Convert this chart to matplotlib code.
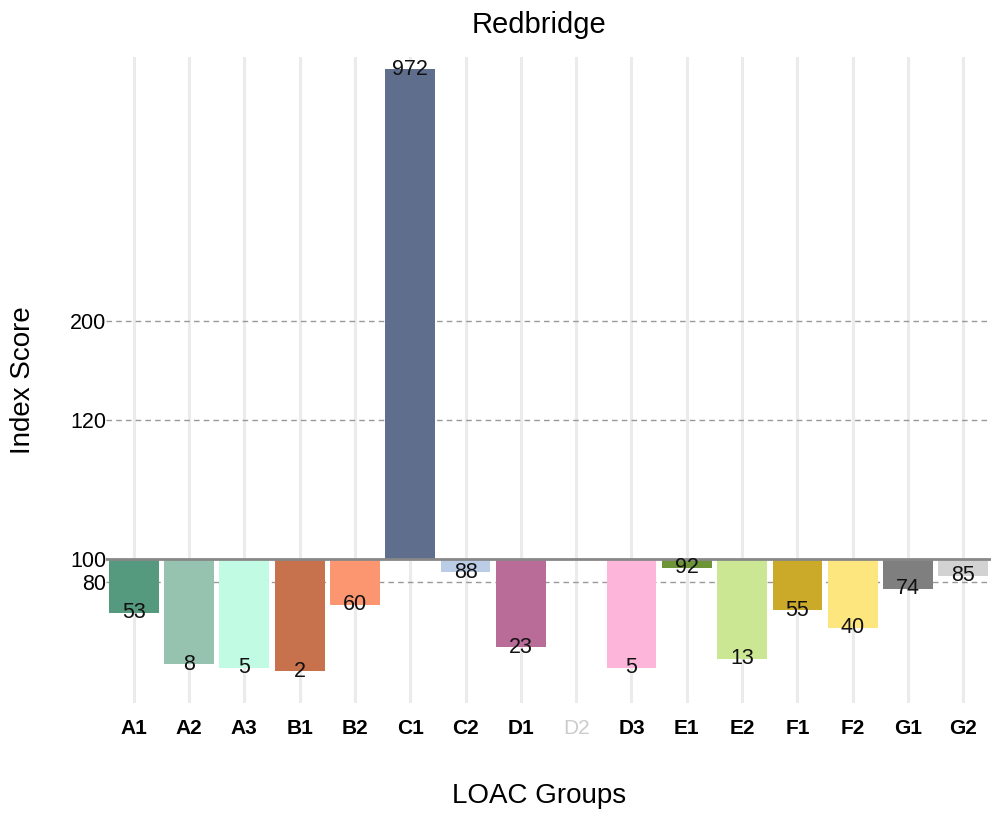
import numpy as np
import matplotlib
matplotlib.use("Agg")
import matplotlib.pyplot as plt

plt.rcParams['font.family'] = ['Liberation Sans', 'DejaVu Sans']

categories = ['A1', 'A2', 'A3', 'B1', 'B2', 'C1', 'C2', 'D1', 'D2', 'D3',
              'E1', 'E2', 'F1', 'F2', 'G1', 'G2']
values = [53, 8, 5, 2, 60, 972, 88, 23, np.nan, 5, 92, 13, 55, 40, 74, 85]
bar_colors = ['#55997F', '#96C2B0', '#C2FBE4', '#C8714D', '#FC9670', '#5F6E8C',
              '#BBCCE6', '#B96C98', '#DDDDDD', '#FDB6DA', '#6E9438', '#CBE793',
              '#CBAA2A', '#FDE67D', '#7F7F7F', '#D2D2D2']
tick_colors = ['black'] * 8 + ['#CCCCCC'] + ['black'] * 7
y_ticks = [80, 100, 120, 200]
baseline = 100
ref_lines = [80, 120, 200]

K = 44.6


def fwd(v):
    v = np.asarray(v, dtype=float)
    return np.where(v >= 100, 100 + K * np.cbrt(np.clip(v - 100, 0, None)), v)


def inv(u):
    u = np.asarray(u, dtype=float)
    return np.where(u >= 100, 100 + (np.clip(u - 100, 0, None) / K) ** 3, u)


fig = plt.figure(figsize=(9.91, 8.15), dpi=100)
ax = fig.add_axes([0.107, 0.137, 0.893, 0.793])
ax.set_yscale('function', functions=(fwd, inv))

x = np.arange(len(categories))
vals = np.array(values, dtype=float)
heights = vals - baseline

for xi in x:
    ax.axvline(xi, color='#EBEBEB', lw=2.2, zorder=0)
for r in ref_lines:
    ax.axhline(r, color='#999999', lw=1.0, ls=(0, (4, 3)), zorder=1)

ax.bar(x, np.nan_to_num(heights), bottom=baseline, width=0.9,
       color=bar_colors, zorder=2)
ax.axhline(baseline, color='#888888', lw=2.0, zorder=3)

for xi, v in zip(x, vals):
    if np.isnan(v):
        continue
    ax.text(xi, v, f"{int(v)}", ha='center', va='center', fontsize=15.5,
            color='#111111', zorder=4)

ax.set_xlim(-0.5, len(categories) - 0.5)
ax.set_ylim(-26, 1040)
ax.set_yticks(y_ticks)
ax.set_yticklabels([str(t) for t in y_ticks], fontsize=15.5)
ax.set_xticks(x)
ax.set_xticklabels(categories, fontsize=15, fontweight='bold')
for lbl, c in zip(ax.get_xticklabels(), tick_colors):
    lbl.set_color(c)
    if c != 'black':
        lbl.set_fontweight('normal')
ax.tick_params(axis='both', length=0)
ax.tick_params(axis='x', pad=11)
ax.tick_params(axis='y', pad=0)
for s in ax.spines.values():
    s.set_visible(False)

fig.text(539 / 991, 1 - 25 / 815, 'Redbridge', ha='center', va='center', fontsize=21)
fig.text(539 / 991, 1 - 796 / 815, 'LOAC Groups', ha='center', va='center', fontsize=20)
fig.text(23 / 991, 1 - 380 / 815, 'Index Score', ha='center', va='center',
         fontsize=20, rotation=90)

fig.savefig('out.png', dpi=100)
